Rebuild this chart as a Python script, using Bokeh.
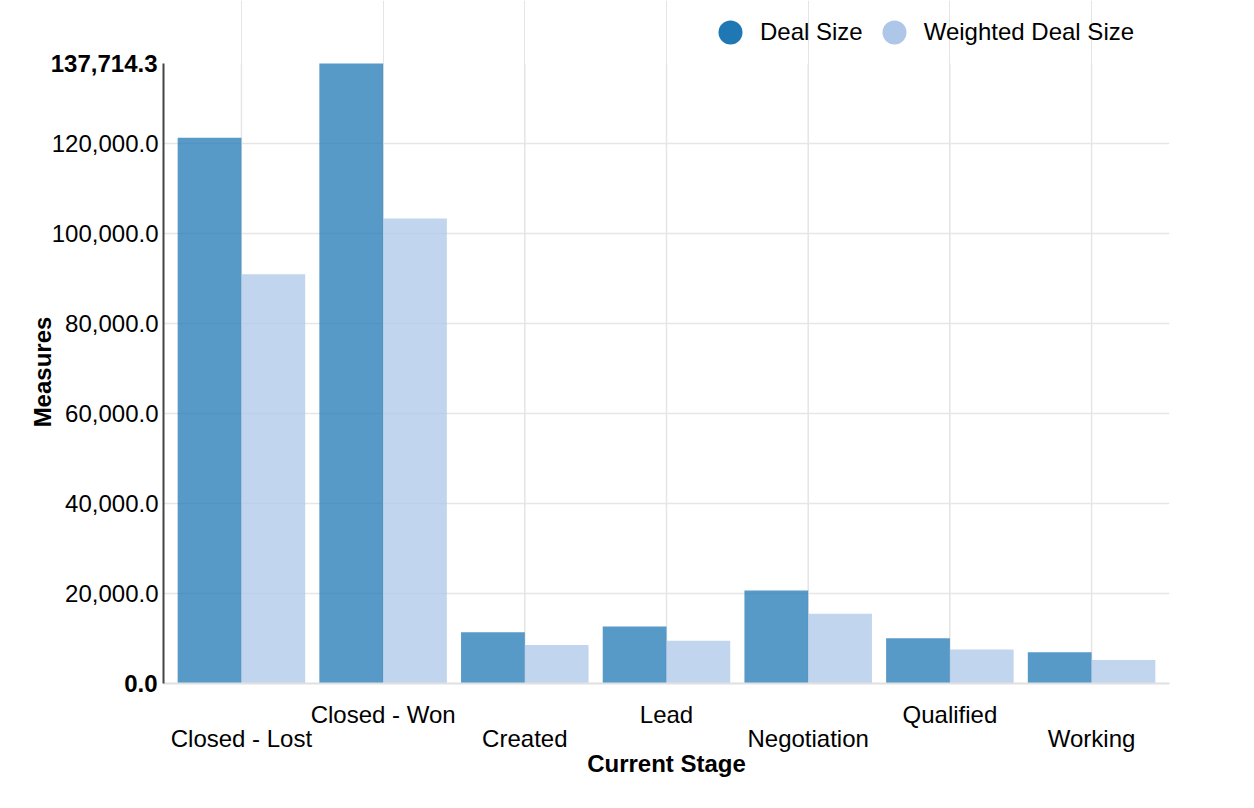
from bokeh.plotting import figure
from bokeh.models import (ColumnDataSource, FactorRange, FixedTicker, Legend, LegendItem,
                          NumeralTickFormatter, Range1d, LinearAxis, CategoricalAxis)
from bokeh.transform import dodge
from bokeh.embed import file_html
from bokeh.resources import INLINE

# ---- data ----
stages = ["Closed - Lost", "Closed - Won", "Created", "Lead", "Negotiation", "Qualified", "Working"]
deal_size = [121200, 137714.3, 11400, 12650, 20650, 10050, 6950]
weighted_deal_size = [90900, 103300, 8550, 9500, 15490, 7530, 5210]
series_names = ["Deal Size", "Weighted Deal Size"]
y_max = 137714.3
y_ticks = [20000, 40000, 60000, 80000, 100000, 120000]
y_end_ticks = [0, y_max]

FONT = "Liberation Sans"
FS = "24px"
DARK = "#1f77b4"
LIGHT = "#aec7e8"
GRID = "#e6e6e6"
PAD = dict(range_padding=0.05, range_padding_units="absolute")

# layout (pixels)
W, H = 1238, 792
LEFT, RIGHT, BOTTOM = 163, 69, 109
FRAME_H = H - BOTTOM          # frame spans from canvas top to the x axis
LEGEND_GAP = 63               # headroom above the value axis (holds the legend)
y_top = y_max * FRAME_H / (FRAME_H - LEGEND_GAP)

# staggered label rows: odd categories on the upper row, even ones on the lower row
row1_factors = [s if i % 2 else " " * (i + 1) for i, s in enumerate(stages)]
row2_factors = [" " * (i + 1) if i % 2 else s for i, s in enumerate(stages)]

src = ColumnDataSource(dict(stage=stages, deal=deal_size, weighted=weighted_deal_size))

p = figure(width=W, height=H,
           x_range=FactorRange(factors=stages, **PAD),
           y_range=Range1d(0, y_top),
           x_axis_location=None,
           output_backend="svg", toolbar_location=None,
           min_border_left=LEFT, min_border_right=RIGHT, min_border_top=0, min_border_bottom=BOTTOM)
p.outline_line_color = None
p.extra_x_ranges = {"row1": FactorRange(factors=row1_factors, **PAD),
                    "row2": FactorRange(factors=row2_factors, **PAD)}

# vertical grid lines at the category centres, limited to the value axis extent
p.segment(x0="stage", x1="stage", y0=0, y1=y_max, source=src,
          line_color=GRID, line_width=1.5, level="underlay")

p.vbar(x=dodge("stage", -0.225, range=p.x_range), top="deal", width=0.45, source=src,
       fill_color=DARK, fill_alpha=0.75, line_color=None)
p.vbar(x=dodge("stage", 0.225, range=p.x_range), top="weighted", width=0.45, source=src,
       fill_color=LIGHT, fill_alpha=0.75, line_color=None)

# legend-only circle renderers
s1 = p.scatter(x="stage", y="deal", source=src, marker="circle", fill_color=DARK, line_color=None, visible=False)
s2 = p.scatter(x="stage", y="weighted", source=src, marker="circle", fill_color=LIGHT, line_color=None, visible=False)
legend = Legend(items=[LegendItem(label=series_names[0], renderers=[s1]),
                       LegendItem(label=series_names[1], renderers=[s2])],
                orientation="horizontal", location=(537, FRAME_H - 62),
                glyph_width=60, glyph_height=60, label_standoff=0, spacing=1,
                padding=0, margin=0, border_line_color=None, background_fill_alpha=0,
                label_text_font=FONT, label_text_font_size=FS, label_text_baseline="middle",
                label_text_color="#000000")
p.add_layout(legend)

# inner y axis: bold end labels
ya = p.yaxis[0]
ya.ticker = FixedTicker(ticks=y_end_ticks)
ya.formatter = NumeralTickFormatter(format="0,0.0")
ya.bounds = (0, y_max)
ya.major_tick_line_color = None
ya.minor_tick_line_color = None
ya.major_label_standoff = 0
ya.axis_line_color = "#444444"
ya.axis_line_width = 2
ya.major_label_text_font = FONT
ya.major_label_text_font_size = FS
ya.major_label_text_font_style = "bold"
ya.major_label_text_color = "#000000"

# outer y axis: regular labels shifted in, plus title (padded so it centres on the value axis)
ya2 = LinearAxis(ticker=FixedTicker(ticks=y_ticks), formatter=NumeralTickFormatter(format="0,0.0"))
ya2.bounds = (0, y_max)
ya2.major_tick_line_color = None
ya2.minor_tick_line_color = None
ya2.axis_line_color = None
ya2.major_label_standoff = -117
ya2.major_label_text_font = FONT
ya2.major_label_text_font_size = FS
ya2.major_label_text_color = "#000000"
ya2.axis_label = "Measures" + "\u00a0" * 9
ya2.axis_label_text_font = FONT
ya2.axis_label_text_font_size = FS
ya2.axis_label_text_font_style = "bold"
ya2.axis_label_text_color = "#000000"
ya2.axis_label_standoff = -7
p.add_layout(ya2, "left")

# x axes: two rows of category labels
xa = CategoricalAxis(x_range_name="row1")
xa.major_tick_line_color = None
xa.minor_tick_line_color = None
xa.axis_line_color = "#e0e0e0"
xa.axis_line_width = 2
xa.major_label_standoff = 11
xa.major_label_text_font = FONT
xa.major_label_text_font_size = FS
xa.major_label_text_color = "#000000"
p.add_layout(xa, "below")

xa2 = CategoricalAxis(x_range_name="row2")
xa2.major_tick_line_color = None
xa2.minor_tick_line_color = None
xa2.axis_line_color = None
xa2.major_label_standoff = -12
xa2.major_label_text_font = FONT
xa2.major_label_text_font_size = FS
xa2.major_label_text_color = "#000000"
xa2.axis_label = "Current Stage"
xa2.axis_label_text_font = FONT
xa2.axis_label_text_font_size = FS
xa2.axis_label_text_font_style = "bold"
xa2.axis_label_text_color = "#000000"
xa2.axis_label_standoff = -5
p.add_layout(xa2, "below")

# y grid
p.ygrid.ticker = FixedTicker(ticks=y_ticks)
p.ygrid.grid_line_color = GRID
p.ygrid.grid_line_width = 1.5

open("out.html", "w").write(file_html(p, INLINE))
